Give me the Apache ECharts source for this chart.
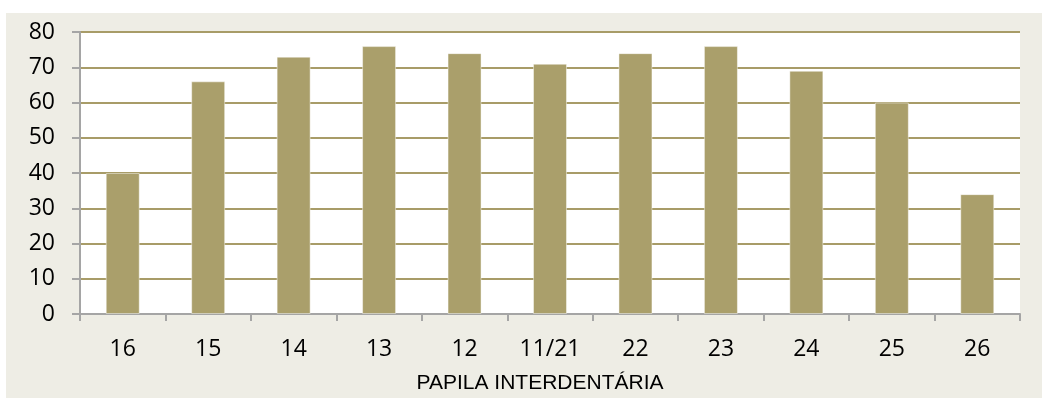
<!DOCTYPE html>
<html>
<head>
<meta charset="utf-8">
<script src="https://cdn.jsdelivr.net/npm/echarts@6/dist/echarts.min.js"></script>
<style>
  html, body { margin: 0; padding: 0; background: #ffffff; }
  #panel { position: absolute; left: 6px; top: 13px; width: 1036px; height: 385px; background: #eeede5; }
  #chart { width: 1036px; height: 385px; }
</style>
</head>
<body>
<div id="panel"><div id="chart"></div></div>
<script>
// Teeth (interdental papillae) along the x axis
const categories = ['16', '15', '14', '13', '12', '11/21', '22', '23', '24', '25', '26'];
// Value for each papilla
const values = [40, 66, 73, 76, 74, 71, 74, 76, 69, 60, 34];
// Y axis range
const yTicks = { min: 0, max: 80, step: 10 };
const axisTitle = 'PAPILA INTERDENTÁRIA';

const chart = echarts.init(document.getElementById('chart'), null, { renderer: 'canvas' });

chart.setOption({
  animation: false,
  backgroundColor: 'transparent',
  grid: {
    left: 74, top: 19, right: 22, bottom: 84,
    containLabel: false,
    outerBoundsMode: 'none',
    show: true, backgroundColor: '#ffffff', borderWidth: 0
  },
  xAxis: {
    type: 'category',
    data: categories,
    boundaryGap: true,
    axisLine: { lineStyle: { color: '#a5a5a5', width: 2 } },
    axisTick: { show: true, length: 7, lineStyle: { color: '#a5a5a5', width: 2 } },
    axisLabel: { margin: 24, color: '#000000', fontFamily: 'Open Sans', fontSize: 23 },
    name: axisTitle,
    nameLocation: 'middle',
    nameGap: 59,
    nameTextStyle: { color: '#000000', fontFamily: 'Liberation Sans', fontSize: 21, padding: [0, 20, 0, 0] }
  },
  yAxis: {
    type: 'value',
    min: yTicks.min, max: yTicks.max, interval: yTicks.step,
    axisLine: { show: true, lineStyle: { color: '#a5a5a5', width: 2 } },
    axisTick: { show: true, length: 8, lineStyle: { color: '#a5a5a5', width: 2 } },
    axisLabel: { margin: 25, color: '#000000', fontFamily: 'Open Sans', fontSize: 23 },
    splitLine: { show: true, lineStyle: { color: '#a89c68', width: 2 } }
  },
  series: [{
    type: 'bar',
    data: values,
    barWidth: 34,
    itemStyle: { color: '#aa9f6b', borderColor: 'rgba(255,255,255,0.45)', borderWidth: 1 }
  }]
});
</script>
</body>
</html>
